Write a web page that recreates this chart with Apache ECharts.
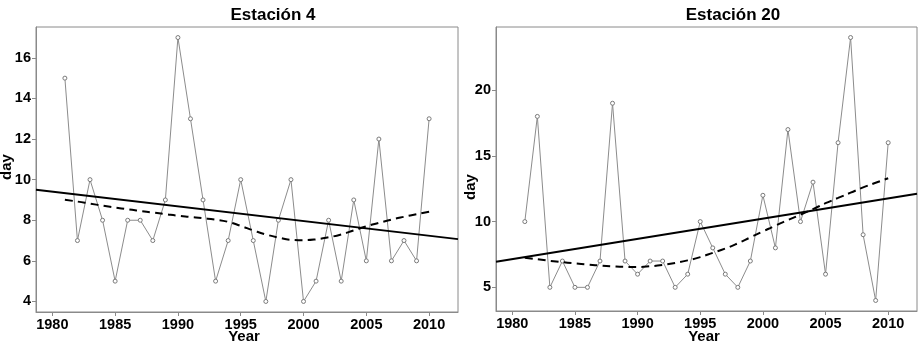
<!DOCTYPE html>
<html>
<head>
<meta charset="utf-8">
<script src="https://cdn.jsdelivr.net/npm/echarts@6/dist/echarts.min.js"></script>
<style>
  html,body{margin:0;padding:0;background:#fff;}
  #main{width:924px;height:346px;}
</style>
</head>
<body>
<div id="main"></div>
<script>
// years 1981..2010
const years = [1981,1982,1983,1984,1985,1986,1987,1988,1989,1990,1991,1992,1993,1994,1995,
  1996,1997,1998,1999,2000,2001,2002,2003,2004,2005,2006,2007,2008,2009,2010]

// Estación 4
const est4Days = [15,7,10,8,5,8,8,7,9,17,13,9,5,7,10,7,4,8,10,4,5,8,5,9,6,12,6,7,6,13]
const est4Smooth = [9.01,8.92,8.82,8.72,8.63,8.54,8.46,8.38,8.30,8.22,8.16,8.10,8.03,7.92,7.72,
  7.50,7.30,7.15,7.04,7.02,7.06,7.16,7.30,7.50,7.70,7.87,8.03,8.17,8.30,8.42]
const est4TrendX = [1978.7,2012.3]
const est4TrendY = [9.5,7.07]

// Estación 20
const est20Days = [10,18,5,7,5,5,7,19,7,6,7,7,5,6,10,8,6,5,7,12,8,17,10,13,6,16,24,9,4,16]
const est20Smooth = [7.25,7.14,7.02,6.91,6.82,6.74,6.66,6.60,6.56,6.55,6.60,6.70,6.85,7.05,7.30,
  7.62,7.95,8.35,8.80,9.25,9.70,10.12,10.53,10.95,11.40,11.80,12.20,12.60,12.95,13.30]
const est20TrendX = [1978.7,2012.3]
const est20TrendY = [6.94,12.12]

const xTicks = [1980,1985,1990,1995,2000,2005,2010]
const yTicks4 = [4,6,8,10,12,14,16]
const yTicks20 = [5,10,15,20]

const font = 'Liberation Sans, Arial, sans-serif'
const pair = (xs,ys)=>xs.map((x,i)=>[x,ys[i]])

const chart = echarts.init(document.getElementById('main'))

const labelStyle = (ticks)=>({
  customValues:ticks, margin:5, color:'#000', fontSize:14.5, fontWeight:'bold', fontFamily:font,
  formatter:(v)=>String(v)
})

const xAxisBase = (gi)=>({
  type:'value', gridIndex:gi, min:1978.7, max:2012.3,
  splitLine:{show:false},
  axisLine:{show:true,lineStyle:{color:'#8a8a8a',width:1}},
  axisTick:{show:true,length:4,customValues:xTicks,lineStyle:{color:'#8a8a8a'}},
  axisLabel:labelStyle(xTicks)
})
const yAxisBase = (gi,min,max,ticks)=>({
  type:'value', gridIndex:gi, min:min, max:max,
  splitLine:{show:false},
  axisLine:{show:true,lineStyle:{color:'#8a8a8a',width:1}},
  axisTick:{show:true,length:4,customValues:ticks,lineStyle:{color:'#8a8a8a'}},
  axisLabel:labelStyle(ticks)
})

const obsSeries = (gi,data)=>({
  type:'line', xAxisIndex:gi, yAxisIndex:gi, data:data,
  lineStyle:{color:'#8c8c8c',width:1},
  symbol:'circle', symbolSize:4, showAllSymbol:true,
  itemStyle:{color:'#fff',borderColor:'#7a7a7a',borderWidth:1},
  animation:false, z:2
})
const trendSeries = (gi,data)=>({
  type:'line', xAxisIndex:gi, yAxisIndex:gi, data:data, showSymbol:false,
  lineStyle:{color:'#000',width:2}, animation:false, z:3
})
const smoothSeries = (gi,data)=>({
  type:'line', xAxisIndex:gi, yAxisIndex:gi, data:data, showSymbol:false, smooth:true,
  lineStyle:{color:'#000',width:2,type:[8,5]}, animation:false, z:3
})

const txt = (x,y,text,size,rot)=>({
  type:'text', x:x, y:y, rotation:rot||0,
  style:{text:text,fill:'#000',font:'bold '+size+'px '+font,align:'center',verticalAlign:'middle'}
})

chart.setOption({
  backgroundColor:'#fff',
  animation:false,
  grid:[
    {left:36,top:27,width:422,height:285,show:true,borderColor:'#8a8a8a',borderWidth:1},
    {left:496,top:27,width:421,height:284,show:true,borderColor:'#8a8a8a',borderWidth:1}
  ],
  xAxis:[xAxisBase(0),xAxisBase(1)],
  yAxis:[yAxisBase(0,3.48,17.52,yTicks4),yAxisBase(1,3.2,24.8,yTicks20)],
  series:[
    obsSeries(0,pair(years,est4Days)),
    trendSeries(0,pair(est4TrendX,est4TrendY)),
    smoothSeries(0,pair(years,est4Smooth)),
    obsSeries(1,pair(years,est20Days)),
    trendSeries(1,pair(est20TrendX,est20TrendY)),
    smoothSeries(1,pair(years,est20Smooth))
  ],
  graphic:[
    txt(273,15,'Estación 4',17),
    txt(733,15,'Estación 20',17),
    txt(244,337,'Year',15),
    txt(704,337,'Year',15),
    txt(7,167,'day',15,Math.PI/2),
    txt(471,187,'day',15,Math.PI/2)
  ]
})
</script>
</body>
</html>
